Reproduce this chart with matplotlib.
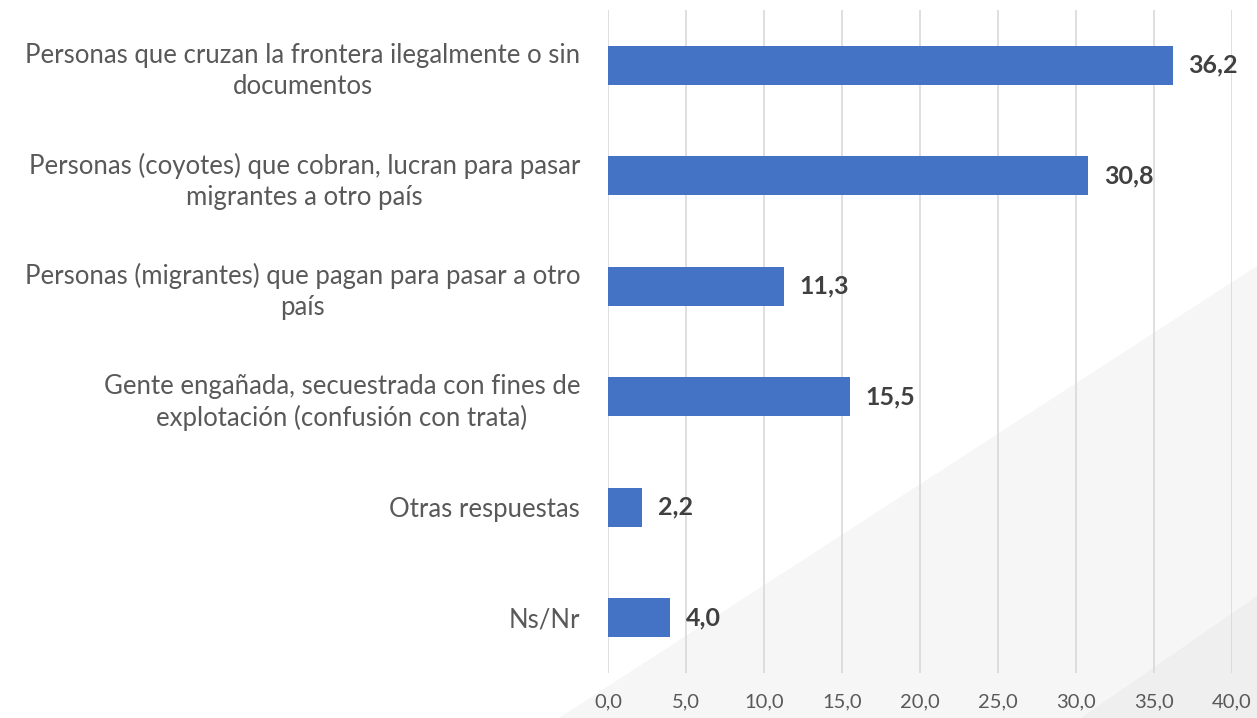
import matplotlib.pyplot as plt
from matplotlib.patches import Polygon

categorias = [
    "Personas que cruzan la frontera ilegalmente o sin\ndocumentos",
    "Personas (coyotes) que cobran, lucran para pasar\nmigrantes a otro país",
    "Personas (migrantes) que pagan para pasar a otro\npaís",
    "Gente engañada, secuestrada con fines de\nexplotación (confusión con trata)",
    "Otras respuestas",
    "Ns/Nr",
]
valores = [36.2, 30.8, 11.3, 15.5, 2.2, 4.0]
ticks = [0, 5, 10, 15, 20, 25, 30, 35, 40]

plt.rcParams['font.family'] = ['Lato', 'DejaVu Sans']

fig = plt.figure(figsize=(12.57, 7.18), dpi=100)

# faint diagonal background shapes (decoration behind the chart)
fig.patches.append(Polygon([(0.445, 0), (1, 0), (1, 0.63)], closed=True,
                           transform=fig.transFigure, facecolor='#f6f6f6', edgecolor='none', zorder=-2))
fig.patches.append(Polygon([(0.86, 0), (1, 0), (1, 0.17)], closed=True,
                           transform=fig.transFigure, facecolor='#efefef', edgecolor='none', zorder=-1))

ax = fig.add_axes([0.4837, 0.0627, 0.4964, 0.9234])
ax.patch.set_alpha(0)

y = list(range(len(categorias)))
ax.barh(y, valores, height=0.35, color='#4472C4', zorder=3)

for yi, v in zip(y, valores):
    ax.text(v + 1.0, yi, f"{v:.1f}".replace('.', ','), va='center', ha='left',
            fontsize=18, fontweight='bold', color='#404040')

ax.set_xlim(0, 40)
ax.set_ylim(5.5, -0.5)
ax.set_xticks(ticks)
ax.set_xticklabels([f"{t:.1f}".replace('.', ',') for t in ticks], fontsize=14.5, color='#595959')
ax.set_yticks(y)
ax.set_yticklabels(categorias, fontsize=18.5, color='#595959', ha='right', multialignment='center',
                   linespacing=1.3)
ax.tick_params(axis='y', length=0, pad=20)
ax.tick_params(axis='x', length=0, pad=15)
ax.grid(axis='x', color='#d9d9d9', linewidth=1.2, zorder=0)
for s in ax.spines.values():
    s.set_visible(False)

fig.savefig('out.png', dpi=100)
